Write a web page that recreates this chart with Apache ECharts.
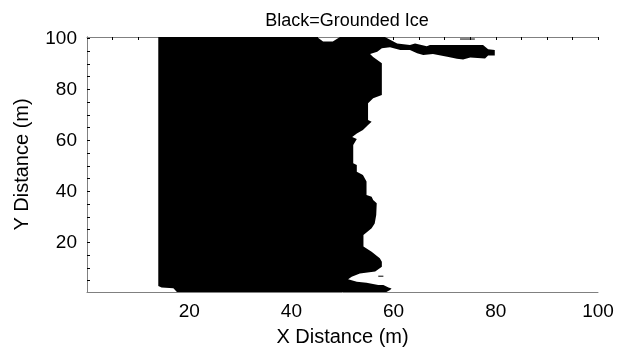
<!DOCTYPE html>
<html>
<head>
<meta charset="utf-8">
<title>Black=Grounded Ice</title>
<script src="https://cdn.jsdelivr.net/npm/echarts@6/dist/echarts.min.js"></script>
<style>
  html, body { margin: 0; padding: 0; background: #ffffff; }
  #chart { width: 626px; height: 352px; }
</style>
</head>
<body>
<div id="chart"></div>
<script>
// Grounded-ice outline in metres, traced clockwise, split into edges.
const westEdge = [[13.95, 2.9], [13.95, 100.5]];
const northEdge = [
  [45.0, 100.5], [46.2, 98.7], [48.1, 98.7], [49.5, 100.5], [58.3, 100.5]
];
const tongueNorth = [
  [60.7, 98.0], [63.2, 97.4], [64.2, 98.0], [66.5, 96.9], [67.1, 97.4],
  [77.5, 97.4], [78.5, 95.7], [79.8, 95.4]
];
const tongueSouth = [
  [79.8, 93.2], [78.5, 93.2], [77.9, 92.1], [75.0, 92.5], [73.6, 91.7],
  [72.4, 92.0], [70.5, 92.8], [67.7, 93.8], [65.8, 93.4], [64.6, 94.1],
  [63.2, 95.4], [61.3, 95.4], [59.3, 96.5], [57.7, 96.1], [56.8, 94.7],
  [55.4, 93.8], [56.0, 92.7]
];
const calvingFront = [
  [57.7, 90.2], [57.7, 77.8], [56.0, 76.5], [55.0, 74.5], [55.0, 68.0],
  [55.7, 67.3], [55.0, 66.0], [54.0, 64.0], [52.8, 62.7], [51.9, 61.3],
  [52.8, 60.5], [52.1, 58.1], [52.1, 51.0], [52.8, 50.3], [52.8, 47.7],
  [54.0, 46.4], [54.7, 43.8], [54.7, 38.5], [55.7, 37.9], [56.0, 36.6],
  [56.7, 35.3], [56.6, 30.7], [56.3, 27.4], [55.7, 25.5], [54.1, 22.9],
  [54.1, 18.3], [55.7, 16.3], [57.3, 13.7], [57.7, 12.4], [57.7, 10.4],
  [56.4, 8.5], [53.4, 7.8], [51.8, 6.5], [51.1, 5.5], [52.8, 4.5],
  [54.7, 4.1], [57.0, 3.2], [58.0, 3.2], [59.0, 2.3], [59.6, 1.9],
  [59.3, 1.3], [58.6, 0.5]
];
const southEdge = [[17.6, 0.5], [16.9, 2.0], [14.6, 2.3]];

// Isolated single-cell slivers of grounded ice.
const northSliver = [[73.0, 99.7], [75.9, 99.7]];
const southSliver = [[57.0, 6.7], [58.0, 6.7]];

// Axis ticks
const xLabelTicks = [20, 40, 60, 80, 100];
const yLabelTicks = [20, 40, 60, 80, 100];
const minorTicks = [5, 10, 15, 20, 25, 30, 35, 40, 45, 50, 55, 60, 65, 70, 75, 80, 85, 90, 95, 100];

const outline = [].concat(westEdge, northEdge, tongueNorth, tongueSouth, calvingFront, southEdge);

const FONT = '"Liberation Sans", Arial, Helvetica, sans-serif';
const FRAME = '#808080';

const chart = echarts.init(document.getElementById('chart'), null, { renderer: 'canvas' });

chart.setOption({
  animation: false,
  backgroundColor: '#ffffff',
  title: {
    text: 'Black=Grounded Ice',
    left: 342,
    top: 7,
    textAlign: 'center',
    textStyle: { fontFamily: FONT, fontSize: 18, fontWeight: 'normal', color: '#000' }
  },
  grid: { left: 87, right: 28, top: 37, bottom: 60 },
  xAxis: [
    {
      type: 'value', position: 'bottom', min: 0, max: 100,
      name: 'X Distance (m)', nameLocation: 'middle', nameGap: 35,
      nameTextStyle: { fontFamily: FONT, fontSize: 20, color: '#000' },
      axisLine: { lineStyle: { color: FRAME, width: 1 } },
      axisTick: { show: false },
      splitLine: { show: false },
      axisLabel: {
        customValues: xLabelTicks, margin: 10,
        fontFamily: FONT, fontSize: 19, color: '#000'
      }
    },
    {
      type: 'value', position: 'top', min: 0, max: 100,
      axisLine: { lineStyle: { color: FRAME, width: 1 } },
      axisTick: { inside: true, length: 3, customValues: minorTicks, lineStyle: { color: '#000' } },
      axisLabel: { show: false },
      splitLine: { show: false }
    }
  ],
  yAxis: [
    {
      type: 'value', position: 'left', min: 0.5, max: 100.5,
      name: 'Y Distance (m)', nameLocation: 'middle', nameGap: 55,
      nameTextStyle: { fontFamily: FONT, fontSize: 20, color: '#000' },
      axisLine: { show: true, lineStyle: { color: FRAME, width: 1 } },
      axisTick: { show: true, inside: true, length: 3, customValues: minorTicks, lineStyle: { color: '#000' } },
      splitLine: { show: false },
      axisLabel: {
        customValues: yLabelTicks, margin: 10,
        fontFamily: FONT, fontSize: 19, color: '#000'
      }
    },
    {
      type: 'value', position: 'right', min: 0.5, max: 100.5,
      axisLine: { show: true, lineStyle: { color: FRAME, width: 1 } },
      axisTick: { show: false },
      axisLabel: { show: false },
      splitLine: { show: false }
    }
  ],
  series: [
    {
      name: 'Grounded ice',
      type: 'custom',
      xAxisIndex: 0,
      yAxisIndex: 0,
      data: [0],
      renderItem: function (params, api) {
        return {
          type: 'polygon',
          shape: { points: outline.map(function (p) { return api.coord(p); }) },
          style: { fill: '#000000', stroke: null }
        };
      },
      silent: true,
      z: 1
    },
    {
      type: 'line', xAxisIndex: 0, yAxisIndex: 0,
      data: northSliver, showSymbol: false, silent: true,
      lineStyle: { color: '#000', width: 1 }, z: 2
    },
    {
      type: 'line', xAxisIndex: 0, yAxisIndex: 0,
      data: southSliver, showSymbol: false, silent: true,
      lineStyle: { color: '#000', width: 1 }, z: 2
    }
  ]
});
</script>
</body>
</html>
